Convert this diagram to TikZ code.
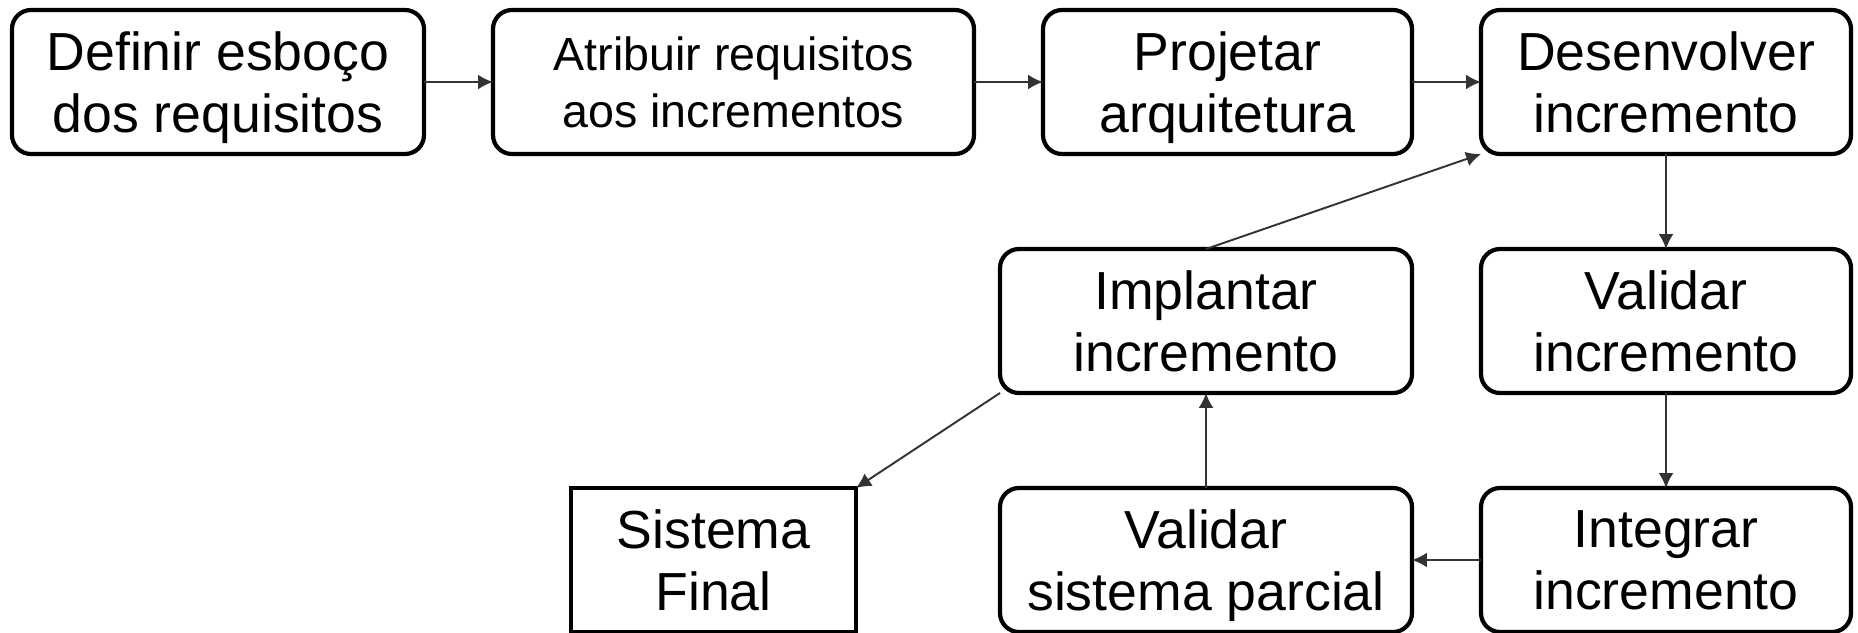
\documentclass[tikz,border=0pt]{standalone}
\usepackage{fontspec}
\setmainfont{Liberation Sans}
\usetikzlibrary{positioning, arrows.meta}

\begin{document}
\begin{tikzpicture}[
	etapa/.style={draw, line width=2.4pt, outer sep=0pt, rounded corners=0.38cm, minimum height=2.88cm, align=center, text depth=0pt, font=\fontsize{30.5}{35.7}\selectfont},
	final/.style={draw, line width=2.4pt, outer sep=0pt, minimum height=2.88cm, minimum width=5.7cm, align=center, text depth=0pt, font=\fontsize{30.5}{35.7}\selectfont},
	seta/.style={-{Latex[length=8.5pt, width=8.5pt]}, line width=1.1pt, draw=black!80, fill=black!80},
	]
	\useasboundingbox (0,0) rectangle (37.16,-12.64);
	
	\node[etapa, minimum width=8.24cm] (esboco) at (4.36,-1.64) {Definir esboço\\dos requisitos};
	\node[etapa, minimum width=9.62cm, font=\fontsize{26.5}{32.4}\selectfont, right=1.38cm of esboco] (atribuir) {Atribuir requisitos\\aos incrementos};
	\node[etapa, minimum width=7.38cm, right=1.38cm of atribuir] (projetar) {Projetar\\arquitetura};
	\node[etapa, minimum width=7.4cm, right=1.38cm of projetar] (desenvolver) {Desenvolver\\incremento};
	
	\node[etapa, minimum width=7.4cm, below=1.9cm of desenvolver] (validarinc) {Validar\\incremento};
	\node[etapa, minimum width=7.4cm, below=1.9cm of validarinc] (integrar) {Integrar\\incremento};
	\node[etapa, minimum width=8.24cm, left=1.38cm of integrar] (validarsis) {Validar\\sistema parcial};
	\node[etapa, minimum width=8.24cm, above=1.9cm of validarsis] (implantar) {Implantar\\incremento};
	\node[final, left=2.88cm of validarsis] (sistema) {Sistema\\Final};
	
	\draw[seta] (esboco) -- (atribuir);
	\draw[seta] (atribuir) -- (projetar);
	\draw[seta] (projetar) -- (desenvolver);
	\draw[seta] (desenvolver) -- (validarinc);
	\draw[seta] (validarinc) -- (integrar);
	\draw[seta] (integrar) -- (validarsis);
	\draw[seta] (validarsis) -- (implantar);
	\draw[seta] (implantar.north) -- (desenvolver.south west);
	\draw[seta] (implantar.south west) -- (sistema.north east);
\end{tikzpicture}
\end{document}
